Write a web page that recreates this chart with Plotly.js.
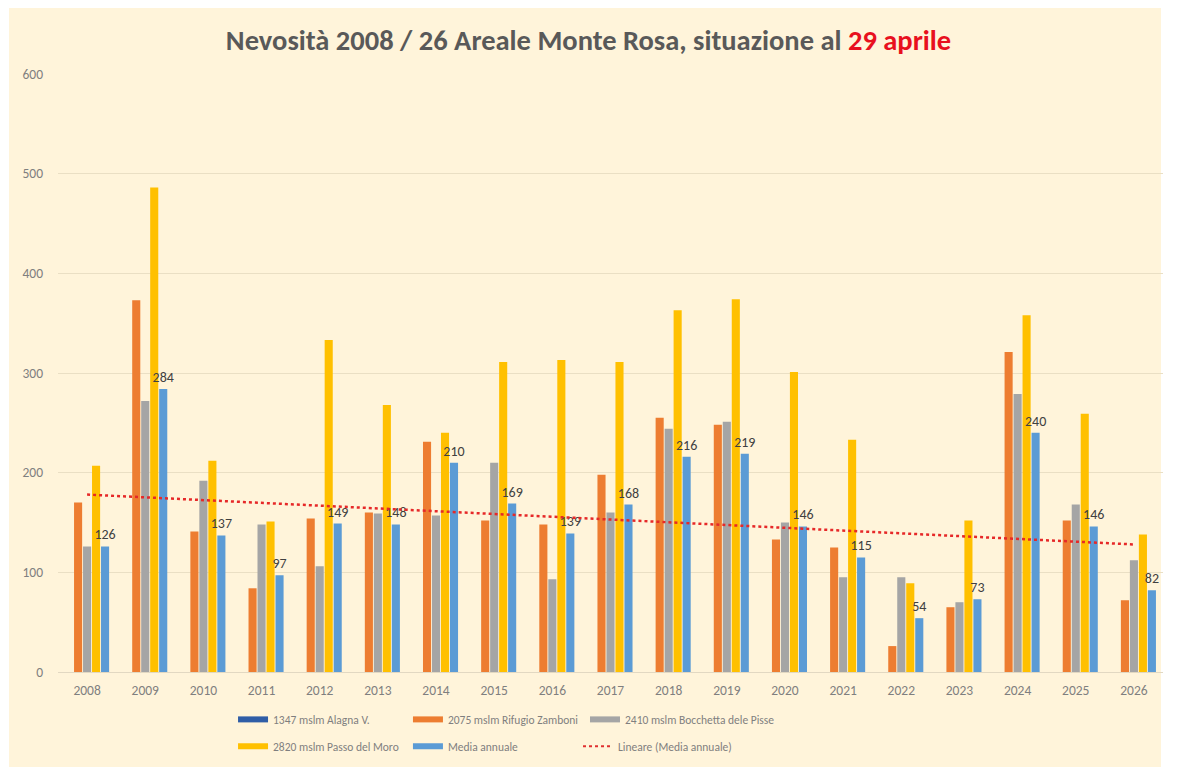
<!DOCTYPE html>
<html>
<head>
<meta charset="utf-8">
<script src="https://cdn.plot.ly/plotly-3.0.1.min.js"></script>
<style>
  html, body { margin:0; padding:0; background:#ffffff; }
  #bg { position:absolute; left:9px; top:8px; width:1152px; height:759px; background:#FFF4DA; }
  #chart { position:absolute; left:0; top:0; width:1177px; height:767px; }
</style>
</head>
<body>
<div id="bg"></div>
<div id="chart"></div>
<script>
const years = ['2008','2009','2010','2011','2012','2013','2014','2015','2016','2017','2018','2019','2020','2021','2022','2023','2024','2025','2026'];
const alagna   = [null,null,null,null,null,null,null,null,null,null,null,null,null,null,null,null,null,null,null];
const zamboni  = [170,373,141,84,154,160,231,152,148,198,255,248,133,125,26,65,321,152,72];
const bocchetta= [126,272,192,148,106,159,157,210,93,160,244,251,150,95,95,70,279,168,112];
const moro     = [207,486,212,151,333,268,240,311,313,311,363,374,301,233,89,152,358,259,138];
const media    = [126,284,137,97,149,148,210,169,139,168,216,219,146,115,54,73,240,146,82];
const trendYears = ['2008','2026'];
const trendValues = [178,128];

const names = ['1347 mslm Alagna V.','2075 mslm Rifugio Zamboni','2410 mslm Bocchetta dele Pisse','2820 mslm Passo del Moro','Media annuale','Lineare (Media annuale)'];
const colors = ['#2F5DA6','#ED7D31','#A5A5A5','#FFC000','#5B9BD5','#E03030'];
const FONT = 'Carlito, Lato, "Open Sans", sans-serif';

const series = [alagna, zamboni, bocchetta, moro, media];
const traces = [];
series.forEach((s, i) => {
  const t = {
    type:'bar', x: years, y: s, name: names[i],
    marker:{color: colors[i]}, showlegend:false, hoverinfo:'x+y'
  };
  if (i === 4) {
    t.text = s.map(v => String(v));
    t.textposition = 'outside';
    t.constraintext = 'none';
    t.cliponaxis = false;
    t.textfont = {family: FONT, size: 14, color:'#404040'};
  }
  traces.push(t);
});
traces.push({
  type:'scatter', mode:'lines', x: trendYears, y: trendValues, name: names[5],
  line:{color:'#E62828', width:2.5, dash:'dot'}, showlegend:false, hoverinfo:'skip'
});
// legend entries: one legend per entry so each can be placed like the original
const legendIds = ['legend','legend2','legend3','legend4','legend5','legend6'];
names.forEach((n, i) => {
  traces.push({
    type:'scatter', mode:'lines', x:[null], y:[null], name:n,
    line: i === 5 ? {color:colors[i], width:2, dash:'dot'} : {color:colors[i], width:6},
    legend: legendIds[i], showlegend:true, hoverinfo:'skip'
  });
});

const legendFont = {family:FONT, size:11.5, color:'#7F7F7F'};
const legX = [0.1584, 0.3167, 0.4769, 0.1584, 0.3167, 0.4706];
const legY = [-0.055, -0.055, -0.055, -0.1, -0.1, -0.1];

const layout = {
  width:1177, height:767,
  paper_bgcolor:'rgba(0,0,0,0)', plot_bgcolor:'rgba(0,0,0,0)',
  margin:{l:58, r:14, t:74, b:95, autoexpand:false},
  font:{family: FONT, color:'#7F7F7F', size:13},
  title:{
    text:'Nevosità 2008 / 26 Areale Monte Rosa, situazione al <span style="color:#E8101E">29 aprile</span>',
    font:{family: FONT, size:28.5, color:'#595959', weight:'bold'},
    x:0.5, xanchor:'center', y:0.948, yanchor:'middle'
  },
  barmode:'group', bargap:0.227, bargroupgap:0.1,
  xaxis:{
    type:'category', range:[-0.5,18.5], showgrid:false, zeroline:false,
    showline:true, linecolor:'#E2D8C2', linewidth:1,
    ticks:'', tickfont:{family:FONT, size:13.5, color:'#7F7F7F'}, ticklabelstandoff:6
  },
  yaxis:{
    range:[0,600], dtick:100, showgrid:true, gridcolor:'#EADFC4', gridwidth:1,
    zeroline:false, showline:false, ticks:'',
    tickfont:{family:FONT, size:13.5, color:'#7F7F7F'}, ticklabelstandoff:14
  }
};
legendIds.forEach((id, i) => {
  layout[id] = {
    orientation:'v', x:legX[i], xanchor:'left', y:legY[i], yanchor:'top',
    bgcolor:'rgba(0,0,0,0)', font:legendFont, itemwidth:30, tracegroupgap:0
  };
});

Plotly.newPlot('chart', traces, layout, {displayModeBar:false, staticPlot:true});
</script>
</body>
</html>
